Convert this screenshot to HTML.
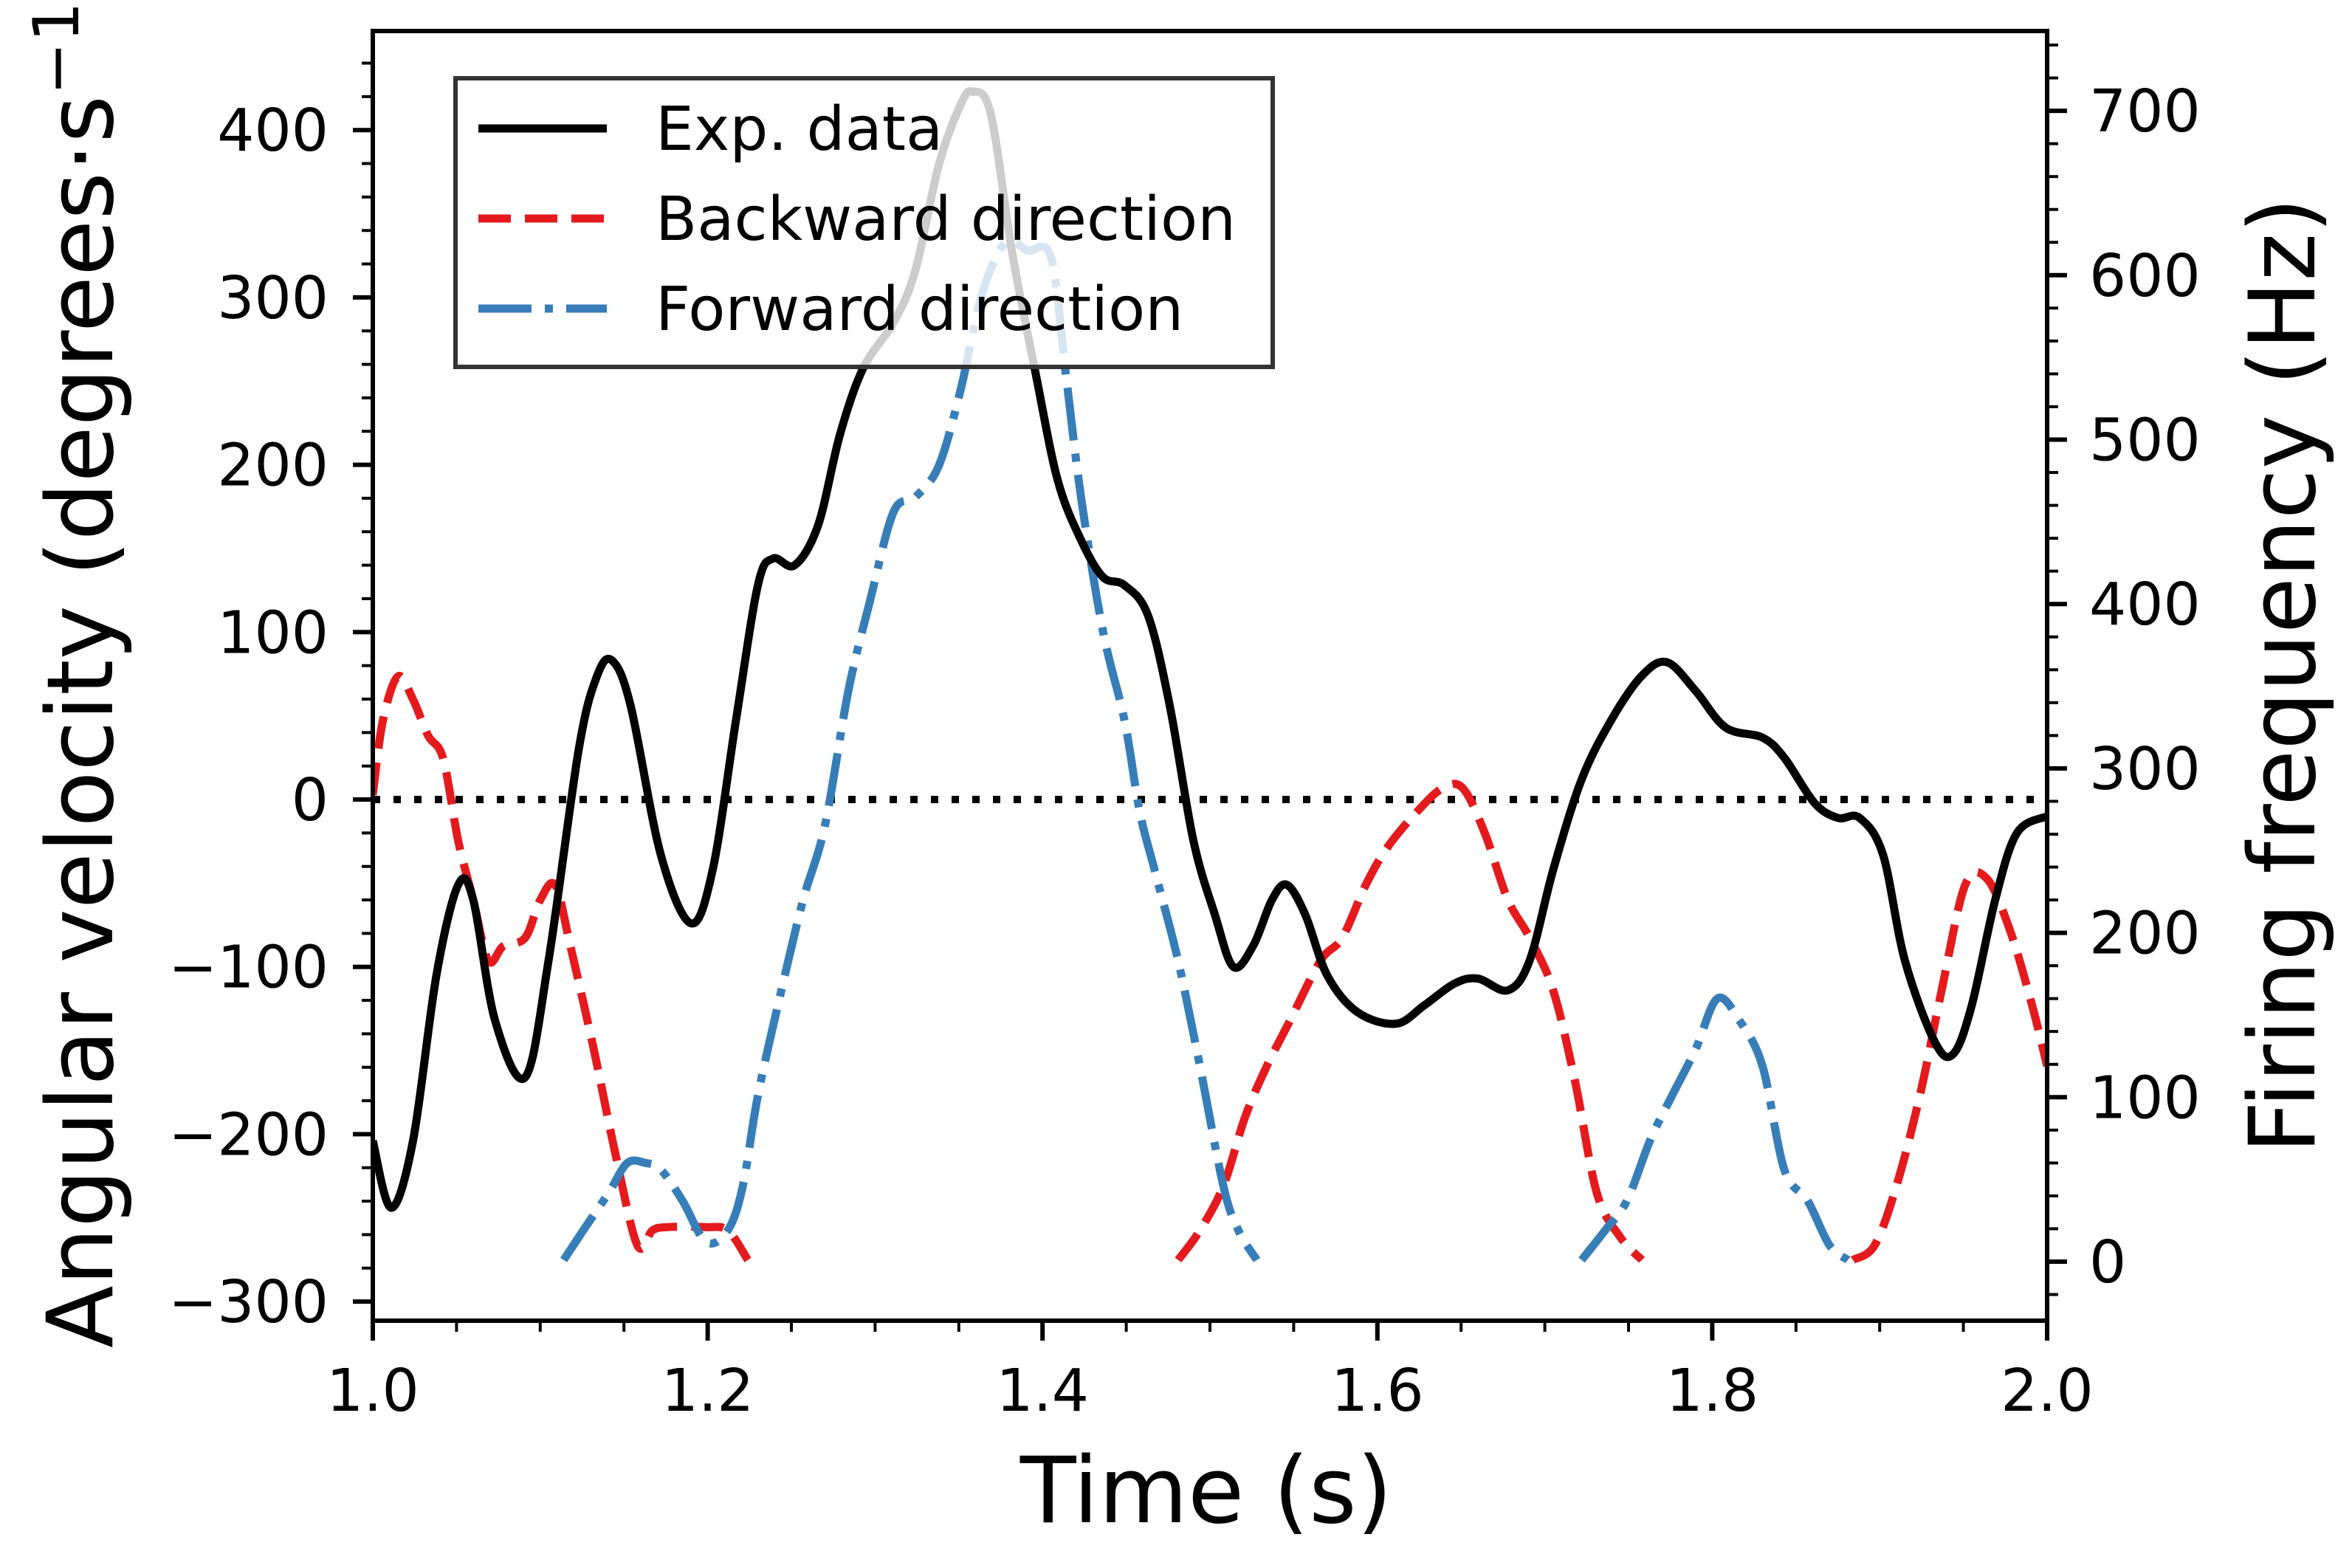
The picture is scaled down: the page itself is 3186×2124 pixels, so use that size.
<!DOCTYPE html>
<html><head><meta charset="utf-8"><style>
html,body{margin:0;padding:0;background:#fff;}
svg{display:block;font-family:"DejaVu Sans","Liberation Sans",sans-serif;}
</style></head><body>
<svg id="chart" width="3186" height="2124" viewBox="0 0 3186 2124" xmlns="http://www.w3.org/2000/svg">
<rect x="0" y="0" width="3186" height="2124" fill="#fff"/>
<g id="plot"></g>
<g id="axes"></g>
<g id="legend"></g>
</svg>
<script>
const expT=[1.000,1.011,1.024,1.038,1.051,1.060,1.073,1.091,1.105,1.123,1.134,1.143,1.154,1.172,1.190,1.203,1.217,1.230,1.239,1.252,1.266,1.279,1.293,1.311,1.324,1.338,1.351,1.358,1.369,1.382,1.396,1.409,1.423,1.436,1.449,1.463,1.476,1.490,1.503,1.514,1.526,1.537,1.546,1.557,1.570,1.588,1.611,1.628,1.646,1.660,1.678,1.691,1.705,1.722,1.740,1.758,1.773,1.790,1.808,1.830,1.843,1.861,1.875,1.888,1.902,1.915,1.933,1.944,1.955,1.969,1.982,2.000];
const expV=[-204,-244,-204,-105,-51,-60,-132,-166,-96,30,74,83,56,-33,-74,-42,48,128,144,140,164,218,258,285,316,379,415,423,410,326,254,191,155,133,128,110,56,-24,-69,-100,-87,-60,-51,-69,-105,-127,-134,-123,-110,-107,-114,-96,-42,12,48,74,82,65,43,37,25,-2,-11,-11,-33,-96,-145,-152,-123,-60,-20,-10];
const backT=[[1.000,1.006,1.015,1.024,1.033,1.042,1.051,1.060,1.069,1.078,1.091,1.100,1.109,1.118,1.132,1.145,1.158,1.167,1.176,1.199,1.212,1.224],
[1.481,1.494,1.508,1.521,1.534,1.548,1.566,1.579,1.593,1.606,1.624,1.639,1.651,1.664,1.678,1.691,1.705,1.718,1.731,1.745,1.758],
[1.884,1.897,1.910,1.924,1.937,1.951,1.964,1.978,1.991,2.000]];
const backF=[[284,329,356,342,320,306,256,220,183,192,197,220,229,192,129,65,10,19,21,21,19,1],
[1,19,46,88,119,147,183,197,229,252,274,288,288,261,220,197,165,110,42,15,1],
[1,10,46,101,165,229,233,201,156,119]];
const fwdT=[[1.114,1.127,1.141,1.152,1.163,1.172,1.185,1.199,1.212,1.221,1.230,1.244,1.257,1.270,1.284,1.297,1.311,1.324,1.338,1.351,1.364,1.378,1.391,1.405,1.414,1.423,1.436,1.449,1.458,1.467,1.481,1.494,1.508,1.517,1.528],
[1.722,1.736,1.749,1.763,1.776,1.790,1.803,1.816,1.830,1.843,1.857,1.870,1.881]];
const fwdF=[[1,21,42,60,60,56,37,12,19,46,101,165,220,265,347,402,456,465,484,530,589,620,615,611,539,465,384,329,274,238,183,119,46,19,1],
[1,19,37,74,101,129,160,147,119,56,37,10,1]];
const xTicks=[1.0,1.2,1.4,1.6,1.8,2.0];
const yLTicks=[-300,-200,-100,0,100,200,300,400];
const yRTicks=[0,100,200,300,400,500,600,700];

const L=505,R=2773,T=42,B=1789;
const X=t=>L+(t-1)*2268;
const YL=v=>1083-v*2.267;
const YR=f=>1709-f*2.227;
const NS="http://www.w3.org/2000/svg";
function mk(tag,attrs,parent){const e=document.createElementNS(NS,tag);for(const k in attrs)e.setAttribute(k,attrs[k]);parent.appendChild(e);return e;}
function smooth(pts){let d=`M${pts[0][0]},${pts[0][1]}`;for(let i=0;i<pts.length-1;i++){const p0=pts[Math.max(0,i-1)],p1=pts[i],p2=pts[i+1],p3=pts[Math.min(pts.length-1,i+2)];const c1=[p1[0]+(p2[0]-p0[0])/6,p1[1]+(p2[1]-p0[1])/6],c2=[p2[0]-(p3[0]-p1[0])/6,p2[1]-(p3[1]-p1[1])/6];d+=` C${c1[0]},${c1[1]} ${c2[0]},${c2[1]} ${p2[0]},${p2[1]}`;}return d;}
const plot=document.getElementById('plot'),axes=document.getElementById('axes'),leg=document.getElementById('legend');
const clip=mk('clipPath',{id:'cp'},document.getElementById('chart'));mk('rect',{x:L,y:T,width:R-L,height:B-T},clip);
plot.setAttribute('clip-path','url(#cp)');

const zero=mk('line',{x1:L,x2:R,y1:YL(0),y2:YL(0),stroke:'#000','stroke-width':10,'stroke-dasharray':'10,18'},plot);



const LW=11;
for(let s=0;s<backT.length;s++){const p=mk('path',{d:smooth(backT[s].map((t,i)=>[X(t),YR(backF[s][i])])),fill:'none',stroke:'#e41a1c','stroke-width':LW,'stroke-dasharray':'44,19'},plot);

}
for(let s=0;s<fwdT.length;s++){const p=mk('path',{d:smooth(fwdT[s].map((t,i)=>[X(t),YR(fwdF[s][i])])),fill:'none',stroke:'#377eb8','stroke-width':LW,'stroke-dasharray':'72,18,11,18'},plot);

}
const ex=mk('path',{d:smooth(expT.map((t,i)=>[X(t),YL(expV[i])])),fill:'none',stroke:'#000','stroke-width':LW},plot);



const fr=mk('rect',{x:L,y:T,width:R-L,height:B-T,fill:'none',stroke:'#000','stroke-width':6},axes);


for(let t=1.0;t<=2.0001;t+=0.05){const maj=Math.abs(t*5-Math.round(t*5))<1e-6;mk('line',{x1:X(t),x2:X(t),y1:B,y2:B+(maj?27:15),stroke:'#000','stroke-width':maj?6:4},axes);}
xTicks.forEach(t=>{const e=mk('text',{x:X(t),y:B+122,'font-size':79,'text-anchor':'middle'},axes);e.textContent=t.toFixed(1);

});
for(let v=-300;v<=440;v+=20){const maj=v%100===0;mk('line',{x1:L,x2:L-(maj?27:15),y1:YL(v),y2:YL(v),stroke:'#000','stroke-width':maj?6:4},axes);}
yLTicks.forEach(v=>{const e=mk('text',{x:L-60,y:YL(v)+28,'font-size':79,'text-anchor':'end'},axes);e.textContent=v<0?'\u2212'+(-v):String(v);

});
for(let f=-20;f<=740;f+=20){const maj=f%100===0;mk('line',{x1:R,x2:R+(maj?27:15),y1:YR(f),y2:YR(f),stroke:'#000','stroke-width':maj?6:4},axes);}
yRTicks.forEach(f=>{const e=mk('text',{x:R+57,y:YR(f)+28,'font-size':79,'text-anchor':'start'},axes);e.textContent=String(f);

});
const xt=mk('text',{x:1634,y:2062,'font-size':124,'text-anchor':'middle'},axes);xt.textContent='Time (s)';


const yt=mk('text',{x:0,y:0,'font-size':124,'text-anchor':'middle',transform:'translate(152,890) rotate(-90)'},axes);
yt.innerHTML='Angular velocity (degrees\u00b7s<tspan dy="-46" font-size="86">\u22121</tspan><tspan dy="46">)</tspan>';


const rt=mk('text',{x:0,y:0,'font-size':124,'text-anchor':'middle',transform:'translate(3135,915) rotate(-90)'},axes);rt.textContent='Firing frequency (Hz)';


const lb=mk('rect',{x:617,y:106,width:1107,height:391,fill:'#fff','fill-opacity':0.8,stroke:'#333','stroke-width':6},leg);


const items=[['Exp. data','#000',''],['Backward direction','#e41a1c','44,19'],['Forward direction','#377eb8','72,18,11,18']];
items.forEach((it,i)=>{const y=174+i*122;const g=mk('g',{},leg);


const a={x1:648,x2:822,y1:y,y2:y,stroke:it[1],'stroke-width':LW};if(it[2])a['stroke-dasharray']=it[2];mk('line',a,g);
const t=mk('text',{x:888,y:y+29,'font-size':82},g);t.textContent=it[0];});
</script>
</body></html>
